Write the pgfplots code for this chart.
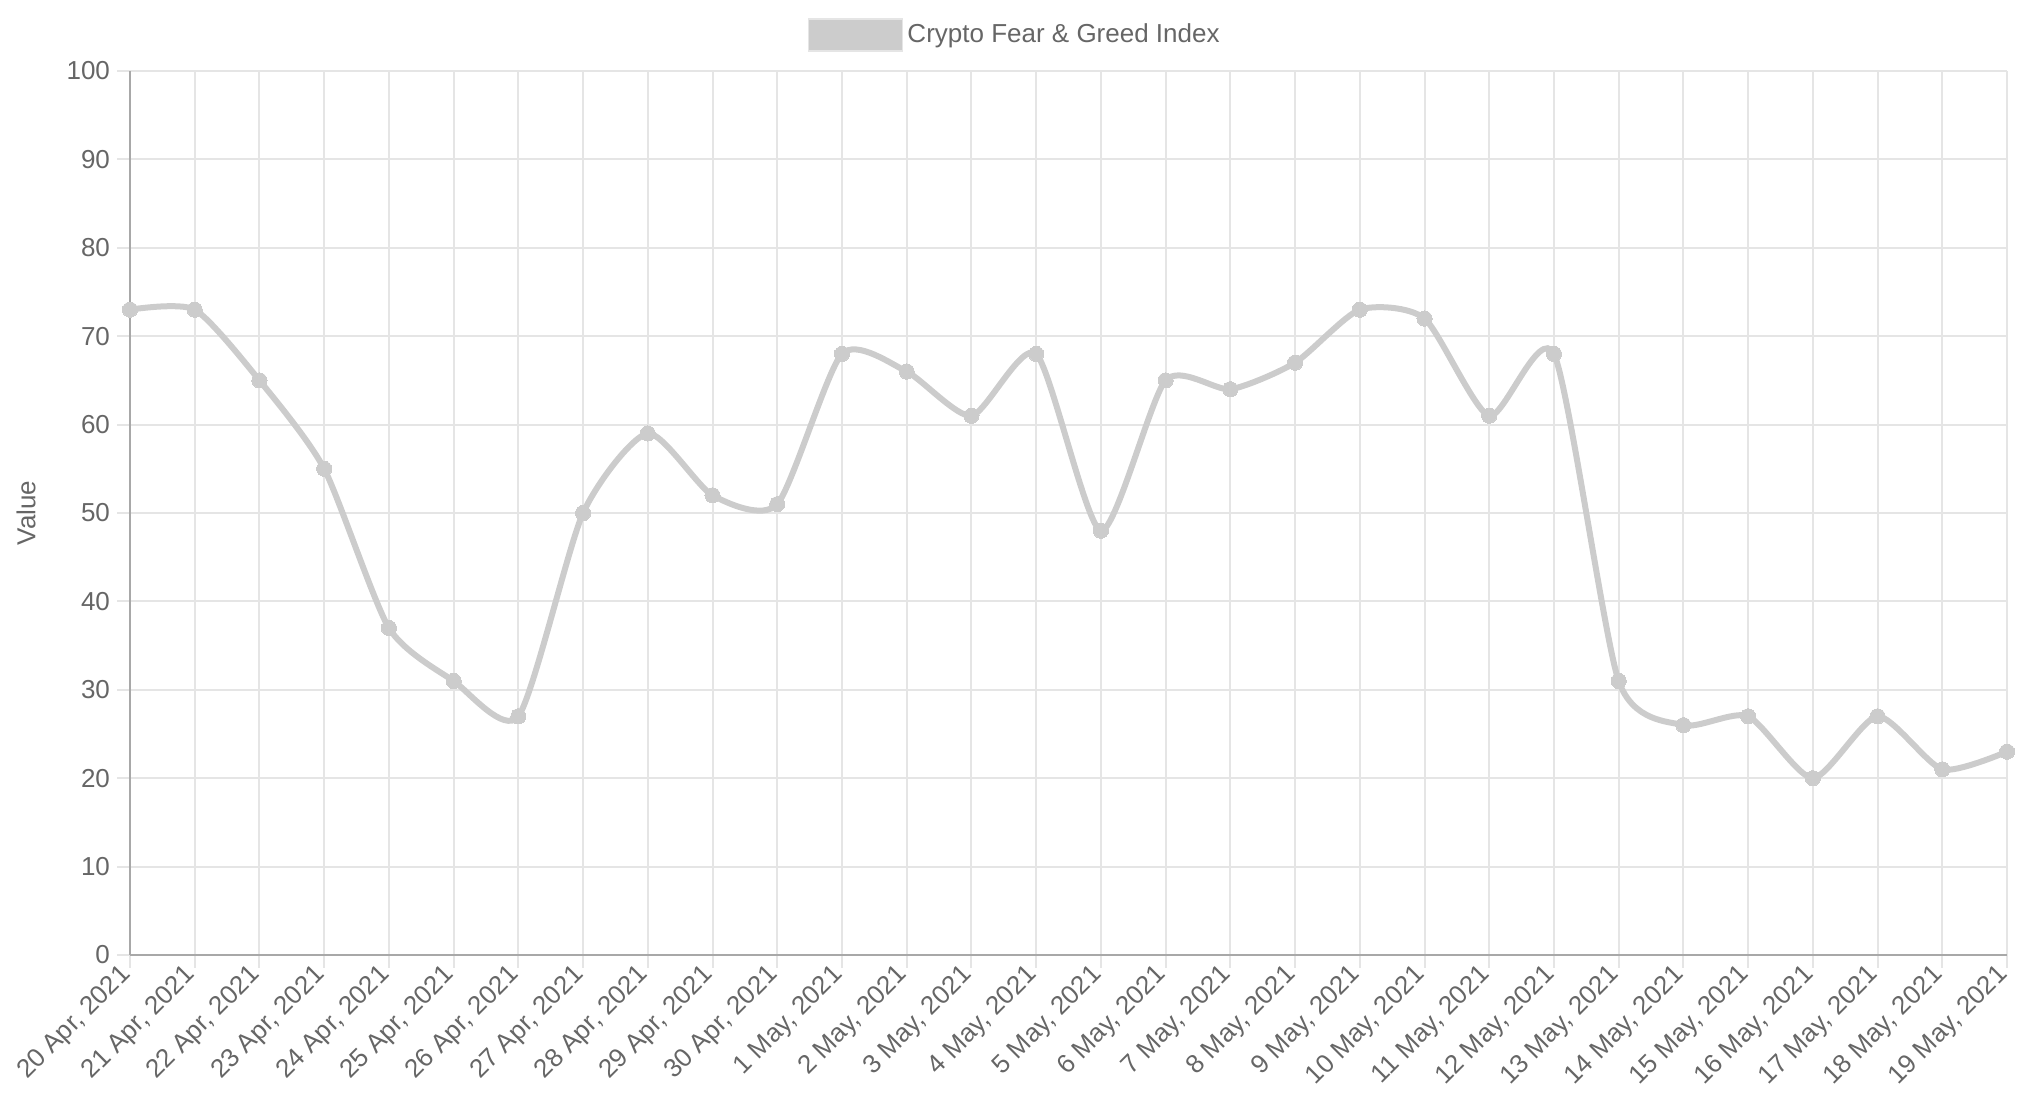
\documentclass[border=0pt]{standalone}
\usepackage{pgfplots}
\pgfplotsset{compat=1.18}
\usepackage{fontspec}
\setmainfont{Liberation Sans}
\definecolor{linegray}{HTML}{CCCCCC}
\definecolor{gridgray}{HTML}{E5E5E5}
\definecolor{axisgray}{HTML}{A8A8A8}
\definecolor{textgray}{HTML}{666666}
\begin{document}
\begin{tikzpicture}
  \begin{axis}[
      scale only axis,
      width=938.5pt,
      height=442pt,
      xmin=0, xmax=29,
      ymin=0, ymax=100,
      clip=false,
      style={/pgf/number format/assume math mode=true},
      font=\fontsize{13}{15}\selectfont,
      axis lines=left,
      axis line style={-, color=axisgray, line width=1pt},
      grid=major,
      major grid style={color=gridgray, line width=1pt},
      tick align=outside,
      major tick length=6.5pt,
      tick style={color=gridgray, line width=1pt},
      xtick={0,1,...,29},
      ytick={0,10,...,100},
      xticklabels={{20 Apr, 2021},{21 Apr, 2021},{22 Apr, 2021},{23 Apr, 2021},
        {24 Apr, 2021},{25 Apr, 2021},{26 Apr, 2021},{27 Apr, 2021},{28 Apr, 2021},
        {29 Apr, 2021},{30 Apr, 2021},{1 May, 2021},{2 May, 2021},{3 May, 2021},
        {4 May, 2021},{5 May, 2021},{6 May, 2021},{7 May, 2021},{8 May, 2021},
        {9 May, 2021},{10 May, 2021},{11 May, 2021},{12 May, 2021},{13 May, 2021},
        {14 May, 2021},{15 May, 2021},{16 May, 2021},{17 May, 2021},{18 May, 2021},
        {19 May, 2021}},
      x tick label style={rotate=45, anchor=east, text=textgray, inner sep=2pt},
      y tick label style={text=textgray},
      ylabel={Value},
      ylabel style={at={(axis description cs:-0.0554,0.5)}, anchor=center, text=textgray},
      legend style={at={(axis description cs:0.472,1.0407)}, anchor=center,
        draw=none, fill=none, text=textgray, font=\fontsize{13}{15}\selectfont},
      legend image code/.code={
        \fill[linegray, draw=gridgray, line width=0.6pt] (0pt,-8pt) rectangle (47pt,8pt);},
    ]
    \addplot[color=linegray, line width=3pt, smooth, tension=0.4,
      mark=*, mark size=3.8pt, mark options={fill=linegray, draw=linegray, line width=0pt}]
      coordinates {
        (0,73) (1,73) (2,65) (3,55) (4,37) (5,31) (6,27) (7,50) (8,59) (9,52)
        (10,51) (11,68) (12,66) (13,61) (14,68) (15,48) (16,65) (17,64) (18,67)
        (19,73) (20,72) (21,61) (22,68) (23,31) (24,26) (25,27) (26,20) (27,27)
        (28,21) (29,23)
      };
    \addlegendentry{Crypto Fear \& Greed Index}
    \coordinate (sw) at (rel axis cs:0,0);
    \coordinate (ne) at (rel axis cs:1,1);
  \end{axis}
  \pgfresetboundingbox
  \path ([shift={(-65pt,-75.5pt)}]sw) rectangle ([shift={(12.5pt,35.5pt)}]ne);
\end{tikzpicture}
\end{document}
